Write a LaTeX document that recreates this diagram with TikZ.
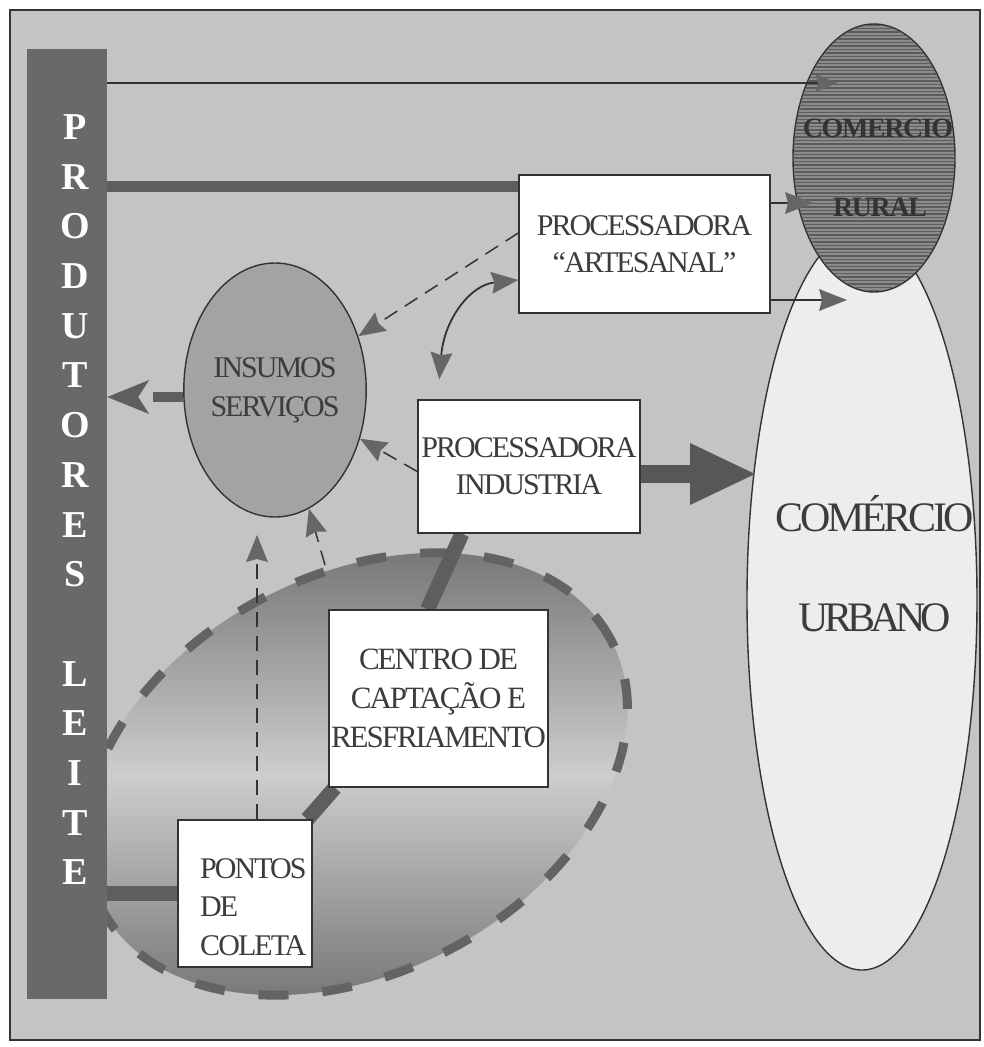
\documentclass[tikz,border=0pt]{standalone}
\usepackage{fontspec}
\setmainfont{Liberation Serif}
\newfontfamily\tightfont[LetterSpace=-6.5]{Liberation Serif}
\newfontfamily\tightbold[LetterSpace=-5]{Liberation Serif}
\newfontfamily\barfont{Liberation Serif}
\usetikzlibrary{arrows.meta,calc,shapes.geometric}
\pgfdeclarelayer{bglayer}
\pgfsetlayers{bglayer,main}
\definecolor{bg}{HTML}{C4C4C4}
\definecolor{bardark}{HTML}{696969}
\definecolor{linedark}{HTML}{333333}
\definecolor{thickgray}{HTML}{5E5E5E}
\definecolor{bigarrowgray}{HTML}{575757}
\definecolor{tipgray}{HTML}{666666}
\definecolor{txtgray}{HTML}{3C3C3C}
\definecolor{insfill}{HTML}{A3A3A3}
\definecolor{urbfill}{HTML}{EDEDED}
\definecolor{rurfill}{HTML}{8C8C8C}
\definecolor{hatchcol}{HTML}{5C5C5C}
\definecolor{dashcol}{HTML}{636363}
\definecolor{shadedark}{HTML}{777777}
\definecolor{shadelight}{HTML}{CDCDCD}
\tikzset{
  boxnode/.style={rectangle, draw=linedark, line width=1.5pt, fill=white, inner sep=0pt,
    align=center, text=txtgray, font=\tightfont\fontsize{30}{37}\selectfont},
  ellnode/.style={ellipse, draw=linedark, line width=1.4pt, inner sep=0pt},
  barletter/.style={text=white, inner sep=0pt, font=\barfont\bfseries\fontsize{38}{38}\selectfont},
  thinarrow/.style={draw=linedark, line width=1.8pt,
    -{Stealth[length=28pt,width=22pt,inset=3pt,color=tipgray,line width=0pt]}},
  dasharrow/.style={draw=linedark, line width=1.5pt, dash pattern=on 15pt off 9pt,
    -{Stealth[length=27pt,width=22pt,inset=3pt,color=tipgray,line width=0pt]}},
  curvarrow/.style={draw=linedark, line width=1.8pt,
    {Stealth[length=27pt,width=22pt,inset=3pt,color=tipgray,line width=0pt]}-{Stealth[length=27pt,width=22pt,inset=3pt,color=tipgray,line width=0pt]}},
  thickconn/.style={draw=thickgray, line width=15pt},
  regiondash/.style={draw=dashcol, line width=9pt, dash pattern=on 30pt off 34pt},
}
\begin{document}
\begin{tikzpicture}[x=1pt,y=-1pt]
\useasboundingbox (0,0) rectangle (984,1047);

% ---------- nodes ----------
\node[ellnode, fill=urbfill, minimum width=230pt, minimum height=740pt] (urbano) at (862,600) {};
\node[ellnode, fill=rurfill, minimum width=162pt, minimum height=268pt] (rural) at (874,158) {};
\begin{scope}
  \clip (874,158) ellipse [x radius=80pt, y radius=133pt];
  \foreach \yy in {25,28.5,...,292} \draw[hatchcol, line width=1.2pt] (790,\yy) -- (960,\yy);
\end{scope}
\node[anchor=base, inner sep=0pt, text=linedark, font=\tightbold\bfseries\fontsize{28}{28}\selectfont] (ruralT1) at (878,137) {COMERCIO};
\node[anchor=base, inner sep=0pt, text=linedark, font=\tightbold\bfseries\fontsize{28}{28}\selectfont] (ruralT2) at (880,216) {RURAL};
\node[anchor=base, inner sep=0pt, text=txtgray, font=\tightfont\fontsize{42}{42}\selectfont] (urbT1) at (875,531) {\addfontfeature{LetterSpace=-8}COMÉRCIO};
\node[anchor=base, inner sep=0pt, text=txtgray, font=\tightfont\fontsize{42}{42}\selectfont] (urbT2) at (875,631) {\addfontfeature{LetterSpace=-12}URBANO};

\node[rectangle, fill=bardark, inner sep=0pt, minimum width=80pt, minimum height=950pt] (bar) at (67,524) {};
\foreach \ch [count=\i from 0] in {P,R,O,D,U,T,O,R,E,S}
  \node[barletter] (pl\i) at (75,{127+49.7*\i}) {\ch};
\foreach \ch [count=\i from 11] in {L,E,I,T,E}
  \node[barletter] (pl\i) at (75,{127+49.7*\i}) {\ch};

\node[ellnode, fill=insfill, minimum width=150pt, minimum height=254pt, align=center,
  text=txtgray, font=\tightfont\fontsize{30}{39}\selectfont] (insumos) at (275,390) {INSUMOS\\SERVIÇOS};

\node[boxnode, minimum width=251pt, minimum height=138pt] (artesanal) at (644.5,244) {PROCESSADORA\\“ARTESANAL”};
\node[boxnode, minimum width=222pt, minimum height=133pt] (industria) at (529,466.5) {PROCESSADORA\\INDUSTRIA};
\node[boxnode, minimum width=219pt, minimum height=177pt, font=\tightfont\fontsize{31}{39}\selectfont] (centro) at (438.5,698.5) {CENTRO DE\\CAPTAÇÃO E\\RESFRIAMENTO};
\node[boxnode, minimum width=134pt, minimum height=147pt] (pontos) at (245,893.5) {};
\node[anchor=north west, inner sep=0pt, align=left, text=txtgray, font=\tightfont\fontsize{30}{38.5}\selectfont] (pontosTxt) at (200,858) {PONTOS\\DE\\COLETA};

% ---------- background layer ----------
\begin{pgfonlayer}{bglayer}
  \draw[draw=linedark, line width=1.5pt, fill=bg] (10,10) rectangle (980,1040);
  \begin{scope}
    \clip[rotate around={27.6:(356,774)}] (356,774) ellipse [x radius=288pt, y radius=199pt];
    \shade[top color=shadedark, bottom color=shadedark, middle color=shadelight] (50,550) rectangle (670,1000);
  \end{scope}
  \draw[regiondash, rotate around={27.6:(356,774)}] (356,774) ellipse [x radius=288pt, y radius=199pt];
  % thick connectors
  \draw[thickconn] ($(industria.south west)!0.2!(industria.south east)$) -- ($(centro.north west)!0.45!(centro.north east)$);
  \draw[thickconn] ($(centro.south west)!0.03!(centro.south east)$) -- ($(pontos.north east)!0.04!(pontos.north west)$);
  \draw[thickconn] (bar.east |- pontos.west) -- (pontos.west);
  \coordinate (artIn) at ($(artesanal.north west)+(0,12)$);
  \draw[draw=thickgray, line width=11pt] (bar.east |- artIn) -- (artIn);
\end{pgfonlayer}

% ---------- arrows ----------
\coordinate (rurTop) at (838,83);
\draw[draw=linedark, line width=1.8pt,
  -{Stealth[length=23pt,width=18pt,inset=3pt,color=tipgray,line width=0pt]}]
  (bar.east |- rurTop) -- (rurTop);
\coordinate (rurIn1) at (813,203);
\draw[thinarrow] (artesanal.east |- rurIn1) -- (rurIn1);
\coordinate (rurIn2) at (847,300);
\draw[thinarrow] (artesanal.east |- rurIn2) -- (rurIn2);

\coordinate (urbIn) at (755,474);
\draw[draw=bigarrowgray, line width=18pt, -{Triangle[length=65pt,width=62pt,line width=0pt]}]
  (industria.east |- urbIn) -- (urbIn);

\coordinate (insOut) at ($(insumos.west)+(0,7)$);
\draw[draw=thickgray, line width=10pt] (insOut) -- ++(-30,0);
\draw[draw=thickgray, line width=10pt, -{Stealth[length=42pt,width=34pt,inset=11pt,line width=0pt]}]
  ($(insOut)+(-48,0)$) -- (bar.east |- insOut);

\draw[dasharrow] ($(artesanal.west)+(0,-11)$) -- (insumos);
\draw[dasharrow] ($(industria.west)+(0,5)$) -- (insumos);
\coordinate (colTop) at (325,565);
\draw[dasharrow] (colTop) -- (insumos);
\coordinate (ptTip) at (257,535);
\draw[dasharrow] (pontos.north -| ptTip) -- (ptTip);

\coordinate (curvA) at ($(industria.north west)+(22,-20)$);
\draw[curvarrow] (curvA) .. controls +(5,-60) and +(-48,5) .. ($(artesanal.west)+(0,36)$);
\end{tikzpicture}
\end{document}
